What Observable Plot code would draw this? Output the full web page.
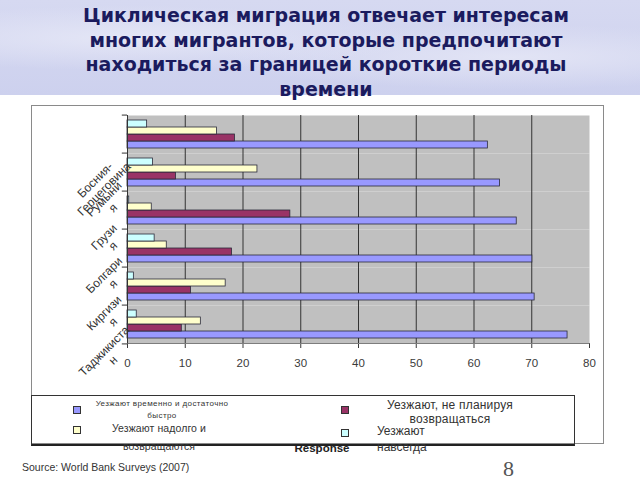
<!DOCTYPE html>
<html><head><meta charset="utf-8">
<script src="https://cdn.jsdelivr.net/npm/d3@7"></script>
<script src="https://cdn.jsdelivr.net/npm/@observablehq/plot@0.6"></script>
<style>
body{margin:0;background:#fff;}
#page{position:relative;width:640px;height:480px;overflow:hidden;font-family:"Liberation Sans",Arial,sans-serif;background:#fff;}
#band{position:absolute;left:0;top:0;width:640px;height:95px;
  background:radial-gradient(ellipse at 20% 40%, #e4e6f6 0%, rgba(228,230,246,0) 40%),
             radial-gradient(ellipse at 80% 60%, #e2e4f5 0%, rgba(226,228,245,0) 40%),
             linear-gradient(180deg,#d6d9f1,#cdd1ee);}
#title{position:absolute;left:6px;top:3px;width:640px;text-align:center;font-family:"DejaVu Sans",sans-serif;font-weight:bold;font-size:19px;line-height:24.5px;color:#1b1b5e;}
#frame{position:absolute;left:31px;top:105px;width:571px;height:337px;border:1px solid #8a8a8a;}
#chart{position:absolute;left:0;top:100px;}
#legend{position:absolute;left:31px;top:395px;width:542px;height:48px;border:1px solid #333;border-bottom:2px solid #222;z-index:2;}
.sw{position:absolute;width:6px;height:6px;border:1px solid #333;}
.lt{position:absolute;color:#333;white-space:nowrap;}
#response{position:absolute;left:272px;width:100px;top:442px;text-align:center;font-weight:bold;font-size:11.5px;color:#222;}
#source{position:absolute;left:22px;top:461px;font-size:10.5px;color:#333;}
#pg{position:absolute;left:503px;top:456px;font-family:"Liberation Serif",serif;font-size:22px;color:#555;}
</style></head>
<body><div id="page">
<div id="band"></div>
<div id="title">Циклическая миграция отвечает интересам<br>многих мигрантов, которые предпочитают<br>находиться за границей короткие периоды<br>времени</div>
<div id="frame"></div>
<div id="chart"></div>
<div id="legend"></div>
<div id="response">Response</div>
<div id="source">Source: World Bank Surveys (2007)</div>
<div id="pg">8</div>
</div>
<script>
const countries = ["Босния-Герцеговина","Румыния","Грузия","Болгария","Киргизия","Таджикистан"];
const countryLabels = ["Босния-\nГерцеговина","Румыни\nя","Грузи\nя","Болгари\nя","Киргизи\nя","Таджикиста\nн"];
const seriesNames = ["Уезжают временно и достаточно быстро","Уезжают, не планируя возвращаться","Уезжают надолго и возвращаются","Уезжают навсегда"];
const seriesColors = ["#9999ff","#993366","#ffffcc","#ccffff"];
const temporary  = [62.4, 64.5, 67.4, 70.1, 70.5, 76.2];
const noReturn   = [18.6,  8.4, 28.2, 18.1, 11.0,  9.4];
const longReturn = [15.5, 22.5,  4.2,  6.8, 17.0, 12.7];
const permanent  = [ 3.4,  4.4,  0.3,  4.7,  1.1,  1.6];
const xTicks = [0,10,20,30,40,50,60,70,80];

const seriesValues = [temporary, noReturn, longReturn, permanent];
const rows = countries.flatMap((c,i)=>seriesValues.map((arr,j)=>({country:c, series:seriesNames[j], value:arr[i]})));
const labelRows = countries.map((c,i)=>({country:c, label:countryLabels[i]}));
const yOrder = [seriesNames[3], seriesNames[2], seriesNames[1], seriesNames[0]];

const H = 280, mT = 12, mB = 35;
const facetH = (H - mT - mB) / countries.length;
const labelStyle = {fy: "country", x: 0, text: "label", rotate: -45, textAnchor: "middle", fontSize: 12, fill: "#333", lineHeight: 1.05};

const chart = Plot.plot({
  width: 640, height: H,
  marginLeft: 127, marginRight: 51, marginTop: mT, marginBottom: mB,
  style: {fontFamily: "Liberation Sans, Arial, sans-serif", fontSize: "11.5px", color: "#3a3a3a", background: "transparent", overflow: "visible"},
  x: {domain: [0, 80], ticks: xTicks, tickSize: 5, tickPadding: 10, line: true, label: null},
  y: {domain: yOrder, axis: null, paddingInner: 0, paddingOuter: 0.65},
  fy: {domain: countries, axis: null, padding: 0},
  color: {domain: seriesNames, range: seriesColors},
  marks: [
    Plot.frame({fill: "#c0c0c0", stroke: "none"}),
    Plot.gridX({ticks: xTicks.slice(1, -1), stroke: "#333", strokeOpacity: 1, strokeWidth: 1}),
    Plot.barX(rows, {x: "value", y: "series", fy: "country", fill: "series", stroke: "#2a2a3a", strokeWidth: 0.8}),
    Plot.ruleX([0], {stroke: "#333"}),
    Plot.ruleY(countries, {fy: d => d, y: null, x1: -0.9, x2: 0, stroke: "#333", dy: -facetH / 2}),
    Plot.ruleY(countries.slice(-1), {fy: d => d, y: null, x1: -0.9, x2: 0, stroke: "#333", dy: facetH / 2}),
    Plot.text(labelRows.slice(0, 1), {...labelStyle, dx: -28, dy: 50}),
    Plot.text(labelRows.slice(1), {...labelStyle, dx: -19, dy: 31})
  ]
});
document.getElementById("chart").appendChild(chart);

// legend built from series names/colors
const legend = document.getElementById("legend");
const legendLayout = [
  {lines: ["Уезжают временно и достаточно", "быстро"], sx: 41, sy: 10, tx: 130, ty: 2, fs: 8, lh: 12, align: "center", ls: "0.4px"},
  {lines: ["Уезжают, не планируя", "возвращаться"], sx: 309, sy: 10, tx: 418, ty: 3, fs: 12, lh: 13.5, align: "center", ls: "0.2px"},
  {lines: ["Уезжают надолго и", "возвращаются"], sx: 41, sy: 30, tx: 127, ty: 23, fs: 10.5, lh: 18, align: "center", ls: "0.1px"},
  {lines: ["Уезжают", "навсегда"], sx: 309, sy: 33, tx: 345, ty: 27, fs: 12, lh: 16, align: "left", ls: "0px"}
];
seriesNames.forEach((name, i) => {
  const L = legendLayout[i];
  const sw = document.createElement("div");
  sw.className = "sw";
  sw.style.left = L.sx + "px"; sw.style.top = L.sy + "px";
  sw.style.background = seriesColors[i];
  legend.appendChild(sw);
  const t = document.createElement("div");
  t.className = "lt";
  t.style.fontSize = L.fs + "px"; t.style.lineHeight = L.lh + "px";
  t.style.textAlign = L.align; t.style.letterSpacing = L.ls;
  t.style.top = L.ty + "px";
  if (L.align === "center") { t.style.left = (L.tx - 100) + "px"; t.style.width = "200px"; }
  else { t.style.left = L.tx + "px"; }
  t.innerHTML = L.lines.join("<br>");
  t.title = name;
  legend.appendChild(t);
});
</script>
</body></html>
